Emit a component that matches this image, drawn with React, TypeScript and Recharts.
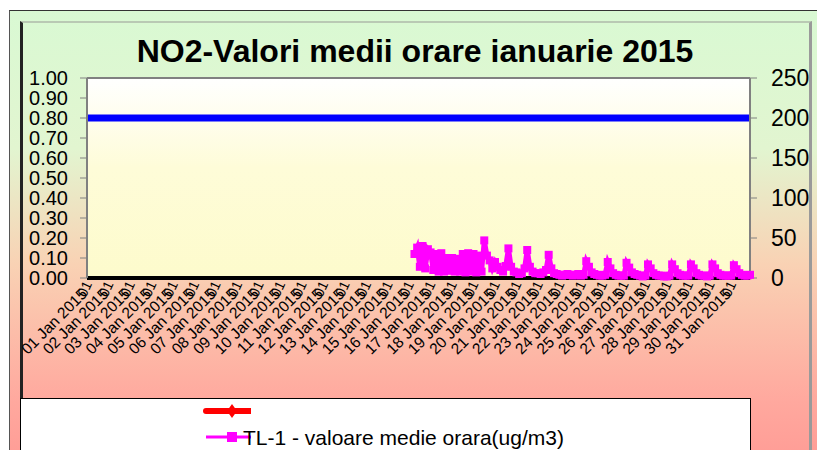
import React from 'react';
import { LineChart, Line, XAxis, YAxis, CartesianGrid, ReferenceLine } from 'recharts';

// day labels on the category axis
const dayLabels = [
  '01 Jan 2015', '02 Jan 2015', '03 Jan 2015', '04 Jan 2015', '05 Jan 2015', '06 Jan 2015',
  '07 Jan 2015', '08 Jan 2015', '09 Jan 2015', '10 Jan 2015', '11 Jan 2015', '12 Jan 2015',
  '13 Jan 2015', '14 Jan 2015', '15 Jan 2015', '16 Jan 2015', '17 Jan 2015', '18 Jan 2015',
  '19 Jan 2015', '20 Jan 2015', '21 Jan 2015', '22 Jan 2015', '23 Jan 2015', '24 Jan 2015',
  '25 Jan 2015', '26 Jan 2015', '27 Jan 2015', '28 Jan 2015', '29 Jan 2015', '30 Jan 2015',
  '31 Jan 2015',
];

// sampled hours within each day
const slotHours = ['01', '04', '07', '10', '13', '16', '19', '22'];

// TL-1 values (ug/m3), 16 Jan .. 31 Jan, 8 samples per day
const tl1FirstDay = 15;
const tl1Values = [
  null, null, 30, 38, 14, 40, 12, 36, // 16
  32, 10, 30, 8, 31, 8, 25, 9, // 17
  25, 8, 24, 8, 30, 7, 31, 8, // 18
  30, 7, 28, 8, 47, 28, 22, 12, // 19
  20, 14, 10, 8, 15, 37, 14, 8, // 20
  7, 5, 6, 12, 35, 14, 8, 6, // 21
  6, 5, 7, 10, 29, 12, 6, 5, // 22
  4, 3, 4, 5, 4, 3, 4, 5, // 23
  3, 4, 21, 14, 7, 5, 4, 3, // 24
  3, 4, 20, 12, 6, 4, 3, 3, // 25
  3, 19, 13, 7, 5, 4, 3, 2, // 26
  3, 17, 12, 6, 4, 3, 3, 2, // 27
  2, 3, 17, 11, 6, 4, 3, 3, // 28
  3, 17, 12, 6, 4, 3, 3, 2, // 29
  3, 17, 12, 6, 4, 3, 3, 3, // 30
  3, 16, 11, 6, 4, 3, 3, 4, // 31
];

const limitValue = 200;
const leftTicks = [0, 0.1, 0.2, 0.3, 0.4, 0.5, 0.6, 0.7, 0.8, 0.9, 1];
const rightTicks = [0, 50, 100, 150, 200, 250];

const data = dayLabels.flatMap((day, d) =>
  slotHours.map((h, s) => {
    const i = (d - tl1FirstDay) * slotHours.length + s;
    return {
      key: `${day}|${h}`,
      tl1: d >= tl1FirstDay ? tl1Values[i] ?? null : null,
      red: null, // the unnamed red series has no values this month
    };
  })
);
const dayTicks = data.filter((_, i) => i % slotHours.length === 0).map((r) => r.key);

const FONT = '"Liberation Sans", Arial, sans-serif';

function DayTick({ x, y, payload }: any) {
  const label = String(payload.value).split('|')[0];
  return (
    <g transform={`translate(${x + 1},${y + 9})`}>
      <text transform="rotate(-45)" textAnchor="end" fontSize={15.5} fontFamily={FONT} fill="#000">
        {label}
      </text>
      <text transform="translate(1,-4) rotate(-65)" textAnchor="middle" fontSize={14} fontFamily={FONT} fill="#000">
        01
      </text>
    </g>
  );
}

function SquareDot(props: any) {
  const { cx, cy, index, value } = props;
  if (value == null || cx == null || cy == null) return <g key={`d${index}`} />;
  return <rect key={`d${index}`} x={cx - 4} y={cy - 4} width={8} height={8} fill="#ff00ff" />;
}

export default function App() {
  return (
    <div style={{ position: 'absolute', left: 0, top: 0, width: 817, height: 450, background: '#fff', overflow: 'hidden', fontFamily: FONT }}>
      <div
        style={{
          position: 'absolute', left: 9, top: 10, width: 830, height: 460,
          borderTop: '1px solid #333', borderLeft: '1px solid #555',
          background: 'linear-gradient(to bottom, #d9f9d3 0%, #e2f5d0 30%, #f9d2b4 55%, #ffa89e 85%, #ff9a94 100%)',
        }}
      />
      <div
        style={{
          position: 'absolute', left: 20, top: 21, width: 786, height: 460,
          borderTop: '2px solid #b9c9b4', borderLeft: '3px solid #222', borderRight: '3px solid #9a9a9a',
        }}
      />
      <div style={{ position: 'absolute', left: 0, top: 33, width: 830, textAlign: 'center', fontSize: 32, fontWeight: 'bold', color: '#000' }}>
        NO2-Valori medii orare ianuarie 2015
      </div>
      <div style={{ position: 'absolute', left: 0, top: 0 }}>
        <LineChart width={817} height={450} data={data} margin={{ top: 78, right: 0, bottom: 0, left: 0 }}>
          <defs>
            <linearGradient id="plotBg" x1="0" y1="0" x2="0" y2="1">
              <stop offset="0%" stopColor="#ffffff" />
              <stop offset="45%" stopColor="#fefcd8" />
              <stop offset="100%" stopColor="#fdfbcc" />
            </linearGradient>
          </defs>
          <CartesianGrid horizontal={false} vertical={false} fill="url(#plotBg)" />
          <XAxis
            dataKey="key"
            ticks={dayTicks}
            interval={0}
            height={172}
            tick={<DayTick />}
            tickLine={false}
            axisLine={false}
          />
          <YAxis
            yAxisId="left"
            orientation="left"
            width={87}
            domain={[0, 1]}
            allowDataOverflow
            ticks={leftTicks}
            tickFormatter={(v: number) => v.toFixed(2)}
            tick={{ fontSize: 20, fill: '#000', fontFamily: FONT }}
            tickSize={7}
            tickMargin={12}
            tickLine={{ stroke: '#808080' }}
            axisLine={{ stroke: '#808080', strokeWidth: 2 }}
            interval={0}
          />
          <YAxis
            yAxisId="right"
            orientation="right"
            width={67}
            domain={[0, 250]}
            ticks={rightTicks}
            tick={{ fontSize: 23, fill: '#000', fontFamily: FONT, textAnchor: 'start' }}
            tickSize={7}
            tickMargin={14}
            tickLine={{ stroke: '#808080' }}
            axisLine={{ stroke: '#808080', strokeWidth: 2 }}
            interval={0}
          />
          <ReferenceLine yAxisId="left" y={1} stroke="#808080" strokeWidth={2} />
          <ReferenceLine yAxisId="left" y={0} stroke="#000" strokeWidth={4} />
          <ReferenceLine yAxisId="right" y={limitValue} stroke="#0000ff" strokeWidth={7} />
          <Line yAxisId="left" dataKey="red" stroke="#ff0000" strokeWidth={5} dot={false} isAnimationActive={false} />
          <Line
            yAxisId="right"
            dataKey="tl1"
            stroke="#ff00ff"
            strokeWidth={5}
            dot={SquareDot}
            isAnimationActive={false}
          />
        </LineChart>
      </div>
      <div style={{ position: 'absolute', left: 20, top: 398, width: 729, height: 70, background: '#fff', border: '1px solid #000' }}>
        <svg width={70} height={60} style={{ position: 'absolute', left: 160, top: 0 }}>
          <line x1={25} y1={12} x2={78} y2={12} stroke="#ff0000" strokeWidth={6} strokeLinecap="round" />
          <polygon points="51,5 56,12 51,19 46,12" fill="#ff0000" />
          <line x1={25} y1={38} x2={70} y2={38} stroke="#ff00ff" strokeWidth={3} />
          <rect x={46} y={33} width={10} height={10} fill="#ff00ff" />
        </svg>
        <div style={{ position: 'absolute', left: 222, top: 27, fontSize: 21, color: '#000', whiteSpace: 'nowrap' }}>
          TL-1 - valoare medie orara(ug/m3)
        </div>
      </div>
    </div>
  );
}
